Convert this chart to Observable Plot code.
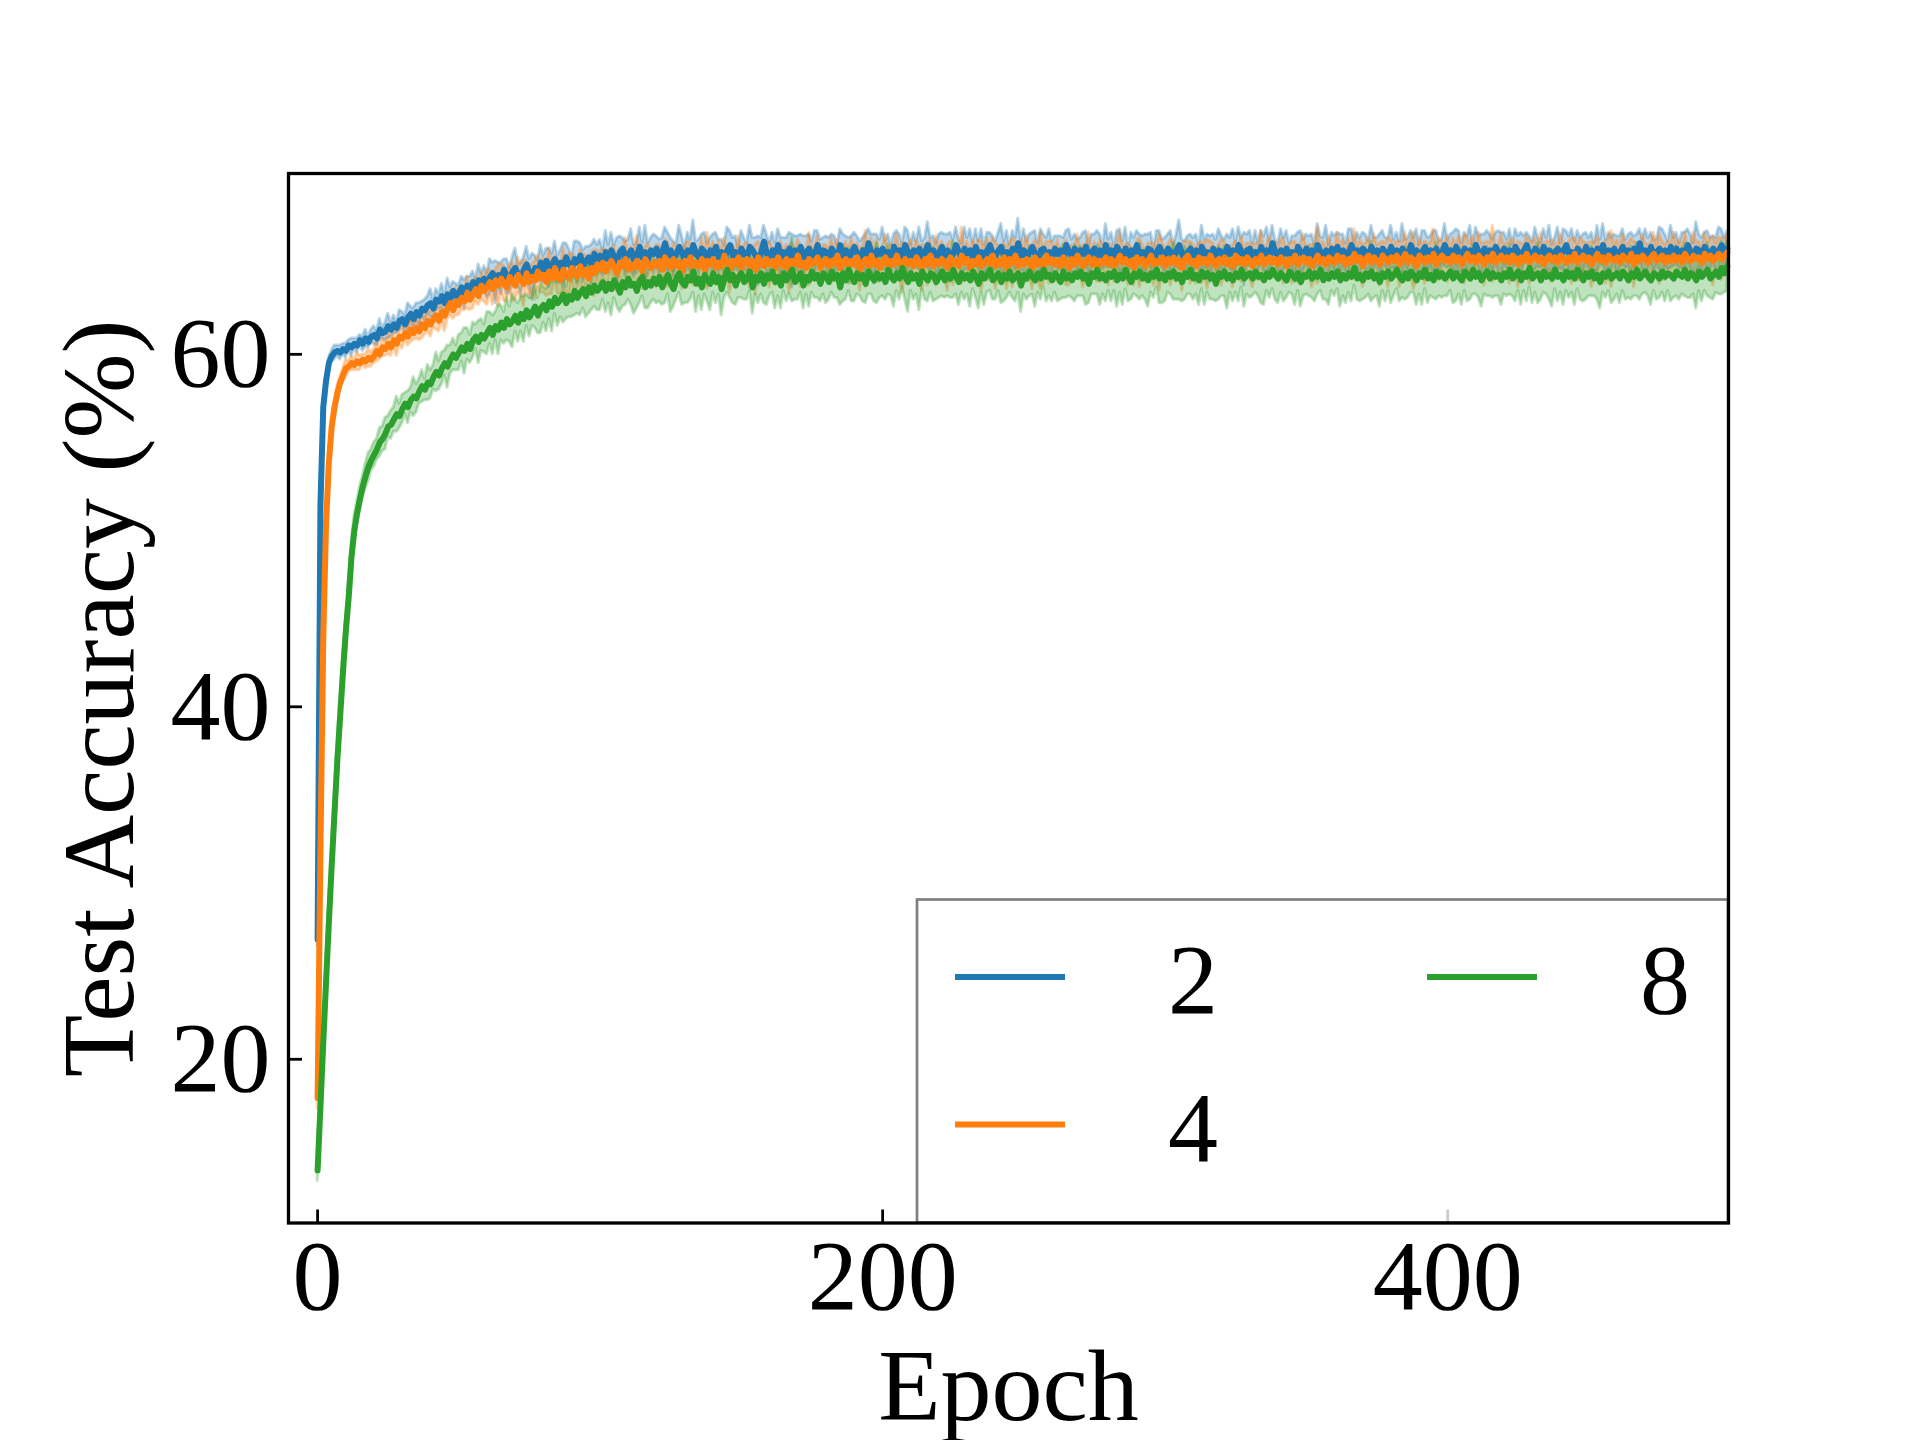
<!DOCTYPE html>
<html><head><meta charset="utf-8">
<script src="https://cdn.jsdelivr.net/npm/d3@7"></script>
<script src="https://cdn.jsdelivr.net/npm/@observablehq/plot@0.6"></script>
<style>html,body{margin:0;padding:0;background:#fff;}#chart{width:1920px;height:1440px;}</style>
</head><body><div id="chart"></div>
<script>
const epochs = d3.range(0, 500);
const seriesNames = ["2", "4", "8"];
const seriesColors = ["#1f77b4", "#ff7f0e", "#2ca02c"];
const xTicks = [0, 200, 400];
const yTicks = [20, 40, 60];

const mean2 = [
26.8,51.4,57.0,58.5,59.5,59.9,60.1,60.2,60.1,60.3,60.2,60.5,60.4,60.6,60.5,60.8,60.6,60.9,60.7,61.0,
61.1,60.9,61.4,61.2,61.3,61.6,61.4,61.7,61.5,61.9,62.0,61.7,62.1,62.3,62.0,62.4,62.2,62.6,62.5,62.8,
62.9,62.6,63.1,63.0,63.3,62.9,63.4,63.2,63.6,63.3,63.5,63.8,63.4,63.9,63.7,64.1,63.8,64.2,64.0,64.3,
63.9,64.4,64.6,64.1,64.5,64.3,64.8,64.4,64.2,64.7,64.9,64.5,64.3,64.8,65.1,64.6,64.4,64.9,64.7,65.2,
64.8,65.3,64.9,65.1,65.4,64.8,65.2,65.0,65.5,65.1,64.9,65.4,65.2,65.6,65.0,65.3,65.5,65.1,65.7,65.3,
65.6,65.2,65.8,65.4,65.9,65.5,65.3,65.8,66.0,65.4,65.7,65.9,65.3,65.6,66.1,65.5,65.8,65.4,65.9,65.7,
66.0,65.5,65.8,66.3,65.6,65.9,65.4,65.7,66.1,65.8,65.3,65.9,65.6,66.2,65.7,65.5,66.0,65.8,65.4,65.9,
65.7,66.1,65.5,65.8,65.3,65.9,66.2,65.6,65.8,65.4,66.0,65.7,65.5,66.1,65.9,65.6,65.3,65.8,66.4,65.7,
65.5,65.9,65.6,66.2,65.4,65.8,65.6,66.0,65.3,65.9,65.7,66.1,65.5,65.8,66.0,65.4,65.7,66.2,65.6,65.9,
65.8,65.4,66.0,65.7,65.5,66.2,65.6,65.9,65.3,65.8,66.1,65.7,65.5,65.9,65.6,66.3,65.8,65.4,65.9,65.7,
66.0,65.6,65.8,65.3,66.1,65.7,65.9,65.5,66.2,65.8,65.4,65.9,65.7,66.0,65.5,65.8,66.2,65.6,65.9,65.4,
65.8,66.1,65.6,65.9,65.5,65.7,66.2,65.8,65.4,66.0,65.7,65.9,65.5,66.1,65.6,65.8,65.3,65.9,66.2,65.7,
65.6,65.9,66.1,65.5,65.8,65.4,66.0,65.7,66.3,65.6,65.9,65.5,65.8,66.1,65.7,65.4,65.9,66.0,65.6,65.8,
65.5,66.0,65.7,65.9,65.4,66.2,65.8,65.6,66.0,65.5,65.9,65.7,66.1,65.4,65.8,66.0,65.6,65.9,65.5,66.2,
65.7,65.9,65.5,66.1,65.8,65.6,66.0,65.4,65.9,65.7,66.2,65.6,65.8,65.5,66.0,65.9,65.3,65.8,66.1,65.7,
65.6,66.0,65.8,65.5,65.9,66.2,65.7,65.4,65.8,66.0,65.6,65.9,65.5,66.1,65.7,65.8,65.4,66.0,65.6,65.9,
65.8,65.5,66.1,65.7,65.9,65.6,66.2,65.8,65.4,65.9,66.0,65.6,65.8,65.5,66.1,65.7,65.9,65.6,66.3,65.8,
65.5,65.9,65.7,66.0,65.6,65.8,65.4,66.1,65.8,65.6,66.0,65.7,65.9,65.5,66.2,65.8,65.6,65.9,65.4,66.0,
65.7,66.1,65.6,65.9,65.5,65.8,66.2,65.7,65.9,65.4,66.0,65.8,65.6,66.1,65.7,65.9,65.5,66.0,65.8,65.6,
66.1,65.7,65.9,65.5,66.0,65.8,65.6,66.2,65.7,65.9,65.4,65.8,66.1,65.6,65.9,65.7,66.0,65.5,65.8,66.2,
65.7,65.9,65.6,66.1,65.8,65.5,66.0,65.7,65.9,65.4,66.2,65.8,65.6,66.0,65.7,65.9,65.5,66.1,65.8,65.6,
66.0,65.7,65.9,65.5,66.1,65.8,65.6,65.9,66.2,65.7,65.5,66.0,65.8,65.6,66.1,65.7,65.9,65.4,65.8,66.0,
65.6,65.9,66.2,65.7,65.8,65.5,66.0,65.8,65.6,66.1,65.7,65.9,65.5,66.0,65.8,66.2,65.6,65.9,65.7,66.0,
65.5,65.8,66.1,65.7,65.9,65.6,66.0,65.8,66.3,65.6,65.9,65.7,66.1,65.5,65.8,66.0,65.7,65.9,65.6,66.1,
65.8,66.0,65.6,65.9,65.7,66.2,65.8,65.5,66.0,65.9,65.6,66.1,65.8,65.7,66.0,65.6,65.9,66.2,65.8,66.0];

const std2 = [
0.4,0.6,0.4,0.3,0.3,0.3,0.4,0.3,0.4,0.3,0.4,0.3,0.5,0.3,0.4,0.3,0.4,0.5,0.3,0.4,
0.5,0.4,0.6,0.3,0.5,0.7,0.4,0.5,0.3,0.6,0.4,0.5,0.8,0.4,0.6,0.5,0.7,0.4,0.6,0.5,
0.8,0.5,0.6,0.4,0.7,0.5,0.9,0.6,0.5,0.7,0.4,0.6,0.8,0.5,0.7,0.6,0.5,0.9,0.6,0.7,
0.7,1.0,0.6,1.2,0.7,0.9,0.6,1.0,0.7,0.8,1.1,0.6,0.9,0.7,1.0,0.8,1.3,0.7,0.6,1.0,
0.8,0.7,1.1,0.6,1.0,0.8,0.7,1.3,0.8,0.9,0.6,1.0,1.2,0.7,0.9,0.8,0.6,1.1,0.8,0.9,
0.9,0.7,1.2,0.8,1.0,0.7,1.3,0.9,0.6,1.0,0.8,1.2,0.9,0.7,1.1,0.8,1.5,0.9,0.7,1.1,
0.7,1.0,0.8,0.9,1.3,0.7,1.0,0.6,1.2,0.9,0.8,1.0,0.9,1.4,0.7,1.0,0.8,1.1,0.9,0.7,
1.1,0.8,1.0,0.7,0.9,1.3,0.8,1.0,0.9,0.7,1.0,0.9,0.8,1.2,0.7,1.0,1.4,0.8,0.9,1.1,
0.8,1.0,0.7,0.9,1.2,0.8,1.0,0.9,1.5,0.8,1.0,0.7,1.2,0.9,0.8,1.0,1.3,0.8,0.9,0.7,
0.9,1.2,0.8,1.0,0.7,0.9,1.2,0.8,1.3,0.9,0.8,1.0,0.9,0.7,1.2,0.8,1.0,1.4,0.9,0.8,
1.2,0.8,1.0,0.9,0.7,1.3,0.9,0.8,1.0,1.2,0.8,1.0,0.7,1.2,0.9,0.8,1.3,1.0,0.8,0.9,
1.0,0.8,1.2,0.9,1.4,0.8,1.0,0.7,0.9,1.2,0.9,1.2,0.8,1.0,0.8,1.3,0.9,1.0,0.7,1.0,
0.8,1.0,1.3,0.9,1.2,0.8,1.0,0.9,1.4,0.8,1.2,0.9,1.0,0.8,1.3,0.9,1.2,0.8,1.0,1.3,
0.9,0.7,1.0,0.8,1.2,0.8,1.3,0.9,0.8,1.0,0.7,1.2,0.9,0.8,1.0,0.8,1.4,0.9,0.7,1.2,
0.8,1.0,0.7,0.9,1.3,0.8,1.2,0.7,1.0,0.9,0.8,1.2,0.9,1.3,0.8,1.0,0.7,1.2,0.9,0.8,
1.0,0.8,1.2,0.7,0.9,1.4,0.8,1.0,0.9,0.8,1.0,0.9,0.7,1.2,0.8,1.0,1.3,0.8,0.9,1.2,
0.9,1.0,0.7,0.9,1.2,0.8,1.0,0.8,1.5,0.9,1.0,0.7,1.2,0.8,0.9,1.0,1.3,0.8,1.0,0.7,
0.8,1.2,0.9,1.0,0.7,0.9,1.3,0.8,1.2,0.9,0.8,1.0,0.9,0.7,1.2,0.9,1.0,1.4,0.8,0.9,
1.0,0.8,1.2,0.9,0.8,1.3,0.9,0.7,1.0,1.2,0.9,1.0,0.8,1.2,0.9,0.7,1.3,1.0,0.8,1.0,
1.2,0.8,1.0,0.9,1.4,0.7,1.0,0.8,0.9,1.2,0.8,1.2,0.9,1.0,0.8,1.3,1.0,0.9,0.7,1.2,
0.8,0.9,1.3,1.0,1.2,0.8,0.9,1.0,1.4,0.8,1.0,0.9,1.2,0.8,1.3,0.9,1.0,0.8,1.2,1.3,
0.9,0.8,1.2,0.7,1.0,0.9,1.3,0.8,0.7,1.0,0.9,1.2,0.8,0.7,1.0,0.9,1.4,0.8,0.8,1.2,
0.7,1.2,0.8,1.0,1.3,0.9,1.0,0.8,1.2,0.8,0.9,1.0,0.8,1.3,0.7,1.2,0.9,1.0,0.9,0.8,
1.2,0.9,1.0,0.8,0.9,1.3,0.7,1.0,0.8,0.9,1.2,0.9,0.8,1.0,0.7,1.2,1.4,0.9,0.8,1.2,
0.8,0.9,0.7,1.0,1.2,0.9,1.0,0.8,1.5,0.9,1.0,0.8,1.2,0.9,0.7,1.0,1.3,0.9,0.8,1.0];

const mean4 = [
17.8,31.8,43.9,50.4,53.9,55.9,57.0,57.8,58.4,58.8,59.2,59.3,59.5,59.4,59.6,59.5,59.7,59.6,59.8,59.7,
59.9,60.2,60.0,60.4,60.3,60.6,60.4,60.8,60.6,61.0,60.9,61.2,61.0,61.4,61.2,61.5,61.3,61.7,61.5,61.9,
61.7,62.0,62.2,61.9,62.4,62.2,62.6,62.9,62.5,63.0,62.8,63.2,63.0,63.5,63.1,63.4,63.7,63.3,63.9,63.6,
63.8,64.1,63.7,64.2,63.9,64.3,64.0,63.8,64.4,64.1,63.9,64.5,64.2,64.0,64.6,64.1,64.4,64.2,64.7,64.3,
64.5,64.1,64.7,64.3,64.9,64.4,64.2,64.8,64.5,64.3,64.9,64.6,64.4,65.0,64.5,64.8,64.3,64.9,64.6,65.1,
64.8,65.2,64.7,65.0,65.3,64.9,64.6,65.2,65.0,65.4,64.8,65.1,64.9,65.3,65.0,64.7,65.4,65.1,64.9,65.2,
65.0,65.3,64.8,65.5,65.1,64.9,65.4,65.0,65.2,64.7,65.3,65.1,65.5,64.9,65.2,65.0,65.4,64.8,65.3,65.1,
65.4,64.9,65.2,65.0,65.6,65.1,64.8,65.3,65.1,65.5,64.9,65.2,65.4,65.0,65.3,64.8,65.5,65.2,65.0,65.4,
65.1,65.3,64.9,65.5,65.2,65.0,65.4,64.8,65.3,65.1,65.6,65.0,65.2,64.9,65.4,65.1,65.3,65.5,64.9,65.2,
65.4,65.0,65.3,65.1,65.6,64.9,65.2,65.4,65.0,65.3,65.1,65.5,64.8,65.2,65.4,65.0,65.6,65.1,65.3,64.9,
65.2,65.5,65.0,65.3,65.1,65.6,65.2,64.9,65.4,65.1,65.3,65.0,65.5,65.2,64.9,65.4,65.1,65.6,65.0,65.3,
65.1,65.4,65.2,64.9,65.5,65.1,65.3,65.0,65.6,65.2,65.4,64.9,65.3,65.1,65.5,65.0,65.2,65.4,65.1,65.6,
65.0,65.3,65.1,65.5,64.9,65.4,65.2,65.6,65.0,65.3,65.1,65.4,65.2,64.9,65.5,65.1,65.3,65.0,65.6,65.2,
65.4,65.1,65.3,65.0,65.5,65.2,64.9,65.4,65.1,65.6,65.2,65.0,65.3,65.5,65.1,65.4,64.9,65.3,65.2,65.5,
65.1,65.4,65.0,65.3,65.6,65.2,65.4,65.1,65.3,64.9,65.5,65.2,65.4,65.0,65.3,65.6,65.1,65.3,65.2,65.5,
65.0,65.4,65.2,65.5,65.1,65.3,64.9,65.4,65.6,65.2,65.3,65.0,65.5,65.2,65.4,65.1,65.6,65.3,65.0,65.4,
65.2,65.5,65.1,65.3,65.0,65.6,65.2,65.4,65.1,65.5,65.3,65.0,65.4,65.2,65.6,65.1,65.3,65.5,65.2,65.4,
65.1,65.5,65.3,65.0,65.4,65.2,65.6,65.1,65.3,65.5,65.2,65.4,65.0,65.3,65.6,65.2,65.4,65.1,65.5,65.3,
65.2,65.6,65.3,65.5,65.1,65.4,65.2,65.7,65.3,65.5,65.0,65.4,65.6,65.2,65.5,65.3,65.1,65.6,65.4,65.2,
65.5,65.3,65.6,65.1,65.4,65.7,65.2,65.5,65.3,65.0,65.6,65.4,65.2,65.5,65.3,65.7,65.1,65.4,65.6,65.3,
65.4,65.2,65.6,65.3,65.5,65.1,65.4,65.7,65.3,65.5,65.2,65.6,65.4,65.1,65.5,65.3,65.7,65.2,65.4,65.6,
65.3,65.5,65.2,65.6,65.4,65.1,65.5,65.3,65.7,65.2,65.4,65.6,65.3,65.5,65.1,65.4,65.6,65.3,65.5,65.2,
65.6,65.4,65.2,65.5,65.3,65.7,65.2,65.4,65.6,65.3,65.5,65.1,65.4,65.7,65.3,65.5,65.2,65.6,65.4,65.3,
65.5,65.2,65.6,65.4,65.3,65.7,65.1,65.5,65.3,65.6,65.4,65.2,65.5,65.7,65.3,65.4,65.6,65.2,65.5,65.3,
65.6,65.3,65.5,65.2,65.7,65.4,65.3,65.6,65.4,65.5,65.2,65.7,65.4,65.6,65.3,65.5,65.7,65.4,65.6,65.8];

const std4 = [
0.6,0.8,0.6,0.5,0.4,0.4,0.3,0.4,0.3,0.4,0.5,0.3,0.4,0.3,0.5,0.4,0.3,0.4,0.5,0.4,
0.4,0.6,0.3,0.5,0.4,0.6,0.5,0.4,0.7,0.5,0.6,0.4,0.5,0.7,0.4,0.6,0.5,0.8,0.4,0.6,
0.7,0.5,0.8,0.6,0.5,0.9,0.6,0.7,0.5,0.8,0.6,0.7,0.5,0.9,0.6,0.8,0.7,0.5,0.8,0.6,
1.0,0.7,0.9,0.6,1.2,0.8,1.0,0.8,0.7,1.1,0.8,1.0,0.9,1.3,0.7,0.9,0.7,1.1,0.9,0.8,
1.0,0.8,1.3,0.9,0.7,1.0,0.8,1.2,0.9,1.4,0.8,1.0,0.7,0.9,1.2,0.8,1.0,0.9,1.3,0.8,
1.0,0.8,1.2,0.9,0.7,1.3,0.9,0.8,1.0,1.2,0.8,1.0,0.9,1.4,0.8,1.0,0.7,1.2,0.9,0.8,
1.2,0.9,0.8,1.0,1.3,0.8,0.9,1.2,0.7,1.0,0.9,1.3,0.8,1.0,0.9,0.7,1.2,0.9,1.6,0.8,
1.0,0.8,1.2,0.9,1.0,0.8,1.3,0.9,0.7,1.2,0.8,1.0,0.9,1.2,0.8,1.4,0.9,1.0,0.8,0.9,
1.3,0.8,1.0,0.7,1.2,0.9,0.8,1.3,1.0,0.8,0.9,1.2,0.8,1.0,1.5,0.9,0.8,1.2,0.9,1.0,
0.8,1.0,1.3,0.8,0.9,1.2,0.7,1.0,0.9,1.3,1.0,0.8,1.2,0.9,1.6,0.8,1.0,0.9,1.2,0.8,
0.9,1.3,0.8,1.0,0.9,1.2,0.8,1.4,0.9,1.0,1.2,0.8,1.0,0.9,1.3,0.8,1.2,0.9,0.8,1.4,
0.9,1.0,0.8,1.3,0.9,1.2,0.8,1.0,1.6,0.9,1.0,0.8,1.2,0.9,1.0,1.4,0.8,1.2,0.9,1.0,
1.3,0.9,1.0,0.8,1.2,0.9,1.4,0.8,1.0,1.2,0.9,1.3,0.8,1.2,1.0,0.9,1.6,1.0,0.8,1.2,
1.0,0.9,1.2,0.8,0.7,1.3,1.0,0.8,0.9,1.2,0.8,1.2,0.9,1.4,0.7,1.0,0.8,1.2,1.0,0.8,
1.2,0.8,0.9,1.0,1.3,0.9,0.8,1.2,0.8,1.0,0.9,1.4,0.8,0.9,1.0,0.7,1.2,0.8,1.6,0.9,
0.9,0.8,1.3,0.9,1.0,0.7,1.3,1.0,0.8,1.2,0.9,1.0,0.8,1.2,0.9,1.4,0.8,1.0,0.9,0.8,
1.3,0.9,1.0,0.8,1.2,0.8,0.9,1.3,0.9,0.8,1.0,1.2,0.9,1.0,1.4,0.8,0.9,1.2,0.8,1.0,
0.9,1.0,1.3,0.9,0.8,1.2,0.8,1.0,1.0,1.3,0.9,0.8,1.2,1.0,1.6,0.9,1.0,0.8,1.2,0.9,
0.8,1.3,0.9,1.0,0.8,1.2,0.9,1.4,0.8,1.0,1.2,0.9,1.0,0.8,1.3,0.9,1.2,0.8,0.9,1.4,
1.0,0.9,0.8,1.3,1.0,1.2,0.9,1.0,1.6,0.8,1.0,0.9,1.2,0.8,1.0,1.4,0.9,1.2,0.8,1.0,
1.3,0.8,1.0,0.9,1.2,0.8,1.4,0.9,1.0,1.2,0.8,1.3,0.9,1.2,0.9,1.0,1.6,0.9,0.8,1.2,
0.9,0.8,1.2,1.0,0.7,1.3,0.8,0.9,1.0,1.2,0.9,1.0,0.8,1.4,0.9,1.0,0.8,1.2,0.8,0.9,
1.2,1.0,0.8,0.9,1.3,0.9,1.0,1.2,0.8,1.0,0.8,1.3,0.9,1.0,0.8,0.8,1.2,1.0,1.6,0.9,
1.0,0.9,1.2,0.8,1.0,0.9,1.3,0.8,0.8,1.2,0.9,1.0,0.8,1.2,0.9,1.4,0.8,1.0,0.9,1.0,
1.3,0.9,1.0,0.8,1.2,0.8,0.9,1.3,1.0,0.9,0.8,1.2,0.9,1.0,1.4,0.8,0.9,1.2,1.0,1.0];

const mean8 = [
13.7,17.3,20.9,24.4,27.8,31.0,34.0,37.0,39.5,42.0,44.3,46.2,48.5,50.0,51.0,51.8,52.5,53.1,53.6,54.0,
54.3,54.6,55.0,55.2,55.5,55.9,56.0,56.3,56.6,56.5,56.9,57.2,57.0,57.4,57.6,57.5,57.9,58.2,58.0,58.4,
58.3,58.7,59.0,58.8,59.2,59.5,59.3,59.7,60.0,59.8,60.1,60.4,60.2,60.6,60.3,60.8,61.0,60.7,61.1,60.9,
61.2,61.5,61.1,61.6,61.4,61.8,61.5,62.0,61.7,61.9,62.2,61.8,62.3,62.0,62.5,62.1,62.4,62.7,62.2,62.6,
62.8,62.5,63.0,62.7,63.2,62.9,63.1,63.4,62.9,63.3,63.1,63.6,63.2,63.5,63.7,63.3,63.8,63.5,63.9,63.6,
63.8,64.1,63.6,64.0,63.7,64.2,63.9,63.5,64.1,63.8,64.3,63.9,64.0,63.6,64.2,64.4,63.8,64.1,63.9,64.3,
64.0,64.4,63.8,64.2,64.5,64.0,63.7,64.3,64.6,64.1,63.9,64.4,64.2,64.7,64.0,64.3,63.8,64.5,64.2,64.0,
64.6,64.1,64.4,63.7,64.3,64.8,64.2,64.5,63.9,64.4,64.6,64.1,64.3,64.7,63.8,64.4,64.2,64.6,64.0,64.5,
64.3,64.7,64.1,64.4,63.9,64.6,64.2,64.5,64.8,64.1,64.3,64.6,63.9,64.4,64.2,64.7,64.3,64.5,64.0,64.6,
64.4,64.1,64.7,64.3,64.5,63.8,64.6,64.2,64.8,64.4,64.1,64.6,64.3,64.5,64.0,64.7,64.4,64.2,64.6,64.3,
64.5,64.1,64.8,64.4,64.2,64.6,64.3,64.9,64.4,64.1,64.6,64.3,64.5,64.0,64.7,64.4,64.2,64.6,64.5,64.1,
64.4,64.7,64.2,64.5,64.3,64.8,64.4,64.1,64.6,64.3,64.5,64.2,64.7,64.4,64.0,64.6,64.3,64.5,64.8,64.2,
64.4,64.6,64.1,64.5,64.3,64.7,64.2,64.4,64.6,63.9,64.5,64.3,64.7,64.4,64.2,64.6,64.3,64.8,64.4,64.5,
64.2,64.6,64.4,64.1,64.7,64.3,64.5,64.2,64.6,64.4,64.7,64.3,64.5,64.0,64.6,64.4,64.8,64.3,64.5,64.2,
64.6,64.4,64.7,64.2,64.5,64.3,64.8,64.4,64.1,64.6,64.4,64.7,64.3,64.5,64.2,64.6,64.4,64.8,64.3,64.5,
64.2,64.6,64.4,64.7,64.3,64.5,64.1,64.6,64.4,64.8,64.3,64.5,64.2,64.7,64.4,64.6,64.3,64.5,64.0,64.6,
64.4,64.7,64.3,64.5,64.2,64.6,64.4,64.8,64.3,64.5,64.6,64.3,64.7,64.4,64.5,64.2,64.6,64.4,64.8,64.5,
64.3,64.6,64.4,64.2,64.7,64.5,64.3,64.6,64.1,64.5,64.4,64.7,64.3,64.6,64.4,64.8,64.2,64.5,64.3,64.6,
64.4,64.7,64.2,64.5,64.3,64.6,64.4,64.9,64.3,64.5,64.2,64.6,64.4,64.7,64.3,64.5,64.1,64.6,64.4,64.7,
64.3,64.5,64.8,64.4,64.2,64.6,64.3,64.7,64.5,64.2,64.6,64.4,64.8,64.3,64.5,64.2,64.7,64.4,64.6,64.3,
64.5,64.7,64.3,64.6,64.4,64.2,64.7,64.5,64.3,64.8,64.4,64.6,64.2,64.5,64.7,64.3,64.6,64.4,64.5,64.2,
64.6,64.4,64.8,64.3,64.5,64.7,64.2,64.6,64.4,64.9,64.3,64.5,64.6,64.2,64.7,64.4,64.5,64.3,64.8,64.4,
64.5,64.2,64.7,64.4,64.6,64.3,64.8,64.5,64.2,64.6,64.4,64.7,64.3,64.5,64.1,64.6,64.4,64.7,64.3,64.5,
64.6,64.3,64.7,64.5,64.2,64.6,64.4,64.8,64.3,64.5,64.7,64.4,64.2,64.6,64.5,64.3,64.7,64.4,64.6,64.5,
64.3,64.7,64.5,64.4,64.8,64.3,64.6,64.5,64.2,64.7,64.4,64.6,64.8,64.3,64.5,64.7,64.4,64.9,64.6,65.0];

const std8 = [
0.6,0.8,0.9,0.8,0.9,1.0,0.9,0.8,0.9,0.8,0.7,0.8,0.7,0.8,0.6,0.7,0.6,0.7,0.8,0.6,
0.7,0.6,0.8,0.7,0.9,0.6,0.8,0.7,1.0,0.7,0.8,0.6,0.9,0.7,1.1,0.8,0.7,0.9,0.6,1.0,
0.8,0.7,1.1,0.8,0.9,0.7,1.2,0.8,0.9,0.7,1.0,0.8,1.3,0.9,0.8,1.0,0.7,1.2,0.9,0.8,
1.2,0.9,1.1,0.8,1.4,1.0,0.9,1.2,1.0,1.5,0.9,1.1,1.0,1.3,0.9,1.1,0.8,1.2,1.0,1.4,
1.0,1.2,1.0,1.4,0.9,1.3,1.0,1.6,0.9,1.2,1.0,1.4,0.9,1.3,1.1,1.2,1.5,1.0,1.2,1.1,
1.3,1.0,1.2,1.1,1.5,1.0,1.2,1.1,1.4,1.0,1.2,1.1,1.7,1.0,1.3,1.1,1.2,1.5,1.0,1.2,
1.1,1.4,1.0,1.3,1.1,1.6,1.0,1.2,1.1,1.3,1.0,1.5,1.1,1.2,1.6,1.0,1.3,1.1,1.2,1.5,
1.1,1.2,1.0,1.5,1.1,1.3,1.0,1.6,1.1,1.2,1.4,1.0,1.2,1.1,1.5,1.0,1.3,1.2,1.1,1.7,
1.0,1.2,1.5,1.1,1.3,1.0,1.2,1.1,1.8,1.0,1.2,1.1,1.3,1.0,1.5,1.2,1.1,1.3,1.0,1.2,
1.5,1.0,1.2,1.1,1.3,1.0,1.6,1.1,1.2,1.4,1.1,1.2,1.0,1.5,1.1,1.3,1.0,1.2,1.7,1.1,
1.2,1.0,1.4,1.1,1.5,1.0,1.2,1.1,1.3,1.7,1.0,1.2,1.1,1.5,1.0,1.3,1.2,1.1,1.5,1.0,
1.2,1.4,1.0,1.2,1.1,1.6,1.0,1.3,1.1,1.2,1.1,1.5,1.0,1.2,1.4,1.1,1.5,1.0,1.2,1.1,
1.3,1.0,1.2,1.5,1.1,1.2,1.0,1.4,1.1,1.5,1.1,1.2,1.4,1.0,1.5,1.1,1.2,1.0,1.4,1.2,
1.2,1.1,1.4,1.0,1.5,1.1,1.2,1.0,1.6,1.1,1.4,1.0,1.7,1.1,1.2,1.0,1.4,1.5,1.1,1.2,
1.0,1.4,1.1,1.5,1.0,1.5,1.1,1.4,1.0,1.2,1.1,1.6,1.0,1.4,1.5,1.1,1.2,1.0,1.4,1.6,
1.2,1.1,1.0,1.6,1.2,1.4,1.1,1.5,1.0,1.4,1.2,1.1,1.4,1.0,1.6,1.1,1.2,1.4,1.0,1.5,
1.1,1.4,1.7,1.0,1.2,1.1,1.4,1.0,1.6,1.1,1.4,1.0,1.2,1.1,1.6,1.4,1.0,1.2,1.1,1.4,
1.4,1.1,1.4,1.0,1.2,1.1,1.5,1.0,1.4,1.2,1.0,1.4,1.1,1.6,1.0,1.2,1.1,1.4,1.5,1.0,
1.1,1.0,1.5,1.2,1.4,1.1,1.4,1.0,1.2,1.5,1.1,1.4,1.0,1.7,1.1,1.2,1.4,1.0,1.4,1.1,
1.4,1.2,1.1,1.4,1.0,1.5,1.1,1.2,1.0,1.4,1.2,1.6,1.1,1.4,1.2,1.0,1.6,1.1,1.4,1.0,
1.2,1.1,1.4,1.6,1.0,1.4,1.1,1.5,1.2,1.4,1.0,1.4,1.5,1.1,1.4,1.0,1.4,1.1,1.2,1.4,
1.2,1.1,1.4,1.0,1.5,1.1,1.4,1.0,1.4,1.1,1.4,1.0,1.7,1.1,1.2,1.0,1.4,1.6,1.1,1.4,
1.0,1.4,1.1,1.2,1.1,1.5,1.1,1.4,1.2,1.5,1.1,1.4,1.0,1.4,1.5,1.1,1.2,1.1,1.4,1.4,
1.2,1.4,1.1,1.4,1.0,1.5,1.1,1.5,1.2,1.1,1.2,1.1,1.4,1.0,1.4,1.1,1.2,1.4,1.0,1.5,
1.1,1.4,1.4,1.0,1.5,1.1,1.4,1.1,1.6,1.1,1.4,1.0,1.5,1.1,1.4,1.2,1.0,1.5,1.1,1.4];

const means = [mean2, mean4, mean8];
const stds = [std2, std4, std8];
const bad = means.concat(stds).map((a, i) => [i, a.length]).filter(d => d[1] !== epochs.length);
if (bad.length) throw new Error("array length mismatch: " + JSON.stringify(bad));

const series = seriesNames.map((name, i) => ({
  name, color: seriesColors[i],
  rows: epochs.map((e, j) => ({epoch: e, mean: means[i][j], lo: means[i][j] - stds[i][j], hi: means[i][j] + stds[i][j]}))
}));

const W = 1920, H = 1440, mL = 288, mR = 192, mT = 173, mB = 217.5;
const frameW = W - mL - mR, frameH = H - mT - mB;
const FONT = "'Liberation Serif', 'Times New Roman', Times, serif";

const marks = [];
series.forEach(s => marks.push(Plot.areaY(s.rows, {x: "epoch", y1: "lo", y2: "hi", fill: s.color, fillOpacity: 0.3, stroke: s.color, strokeOpacity: 0.3, strokeWidth: 3})));
series.forEach(s => marks.push(Plot.lineY(s.rows, {x: "epoch", y: "mean", stroke: s.color, strokeWidth: 6, strokeLinejoin: "round"})));
marks.push(Plot.tickX(xTicks, {x: d => d, insetTop: frameH - 13, stroke: "black", strokeWidth: 2.8}));
marks.push(Plot.tickY(yTicks, {y: d => d, insetRight: frameW - 14, stroke: "black", strokeWidth: 2.8}));
marks.push(Plot.axisX(xTicks, {tickSize: 0, tickPadding: 15, fontSize: 100, label: null}));
marks.push(Plot.axisY(yTicks, {tickSize: 0, tickPadding: 18, fontSize: 100, label: null}));
marks.push(Plot.frame({stroke: "black", strokeWidth: 3.3}));
marks.push(Plot.text(["Epoch"], {frameAnchor: "bottom", dy: 125, lineAnchor: "top", textAnchor: "middle", fontSize: 102, fill: "black"}));
marks.push(Plot.text(["Test Accuracy (%)"], {frameAnchor: "left", dx: -188, rotate: -90, textAnchor: "middle", lineAnchor: "middle", fontSize: 102, fill: "black"}));

const svg = Plot.plot({
  width: W, height: H,
  marginLeft: mL, marginRight: mR, marginTop: mT, marginBottom: mB,
  x: {domain: [-10.3, 499.4]},
  y: {domain: [10.71, 70.26]},
  style: {fontFamily: FONT, fontSize: "100px", background: "white", color: "black", overflow: "visible"},
  marks
});
document.getElementById("chart").appendChild(svg);

// legend box (inside the axes, lower right), placed beneath the frame
const root = d3.select(svg);
const lg = root.insert("g", "[aria-label=frame]").attr("font-family", FONT).attr("font-size", 100);
lg.append("rect").attr("x", 917).attr("y", 899.5).attr("width", 1728 - 917).attr("height", 1222.5 - 899.5)
  .attr("fill", "white").attr("fill-opacity", 0.8).attr("stroke", "#808080").attr("stroke-width", 2.7);
const legendItems = [
  {i: 0, x: 955, y: 977, tx: 1193},
  {i: 1, x: 955, y: 1124.5, tx: 1193},
  {i: 2, x: 1427, y: 977, tx: 1665}
];
legendItems.forEach(it => {
  lg.append("line").attr("x1", it.x).attr("x2", it.x + 110).attr("y1", it.y).attr("y2", it.y)
    .attr("stroke", seriesColors[it.i]).attr("stroke-width", 6);
  lg.append("text").attr("x", it.tx).attr("y", it.y + 36).attr("text-anchor", "middle").attr("fill", "black").text(seriesNames[it.i]);
});
</script></body></html>
